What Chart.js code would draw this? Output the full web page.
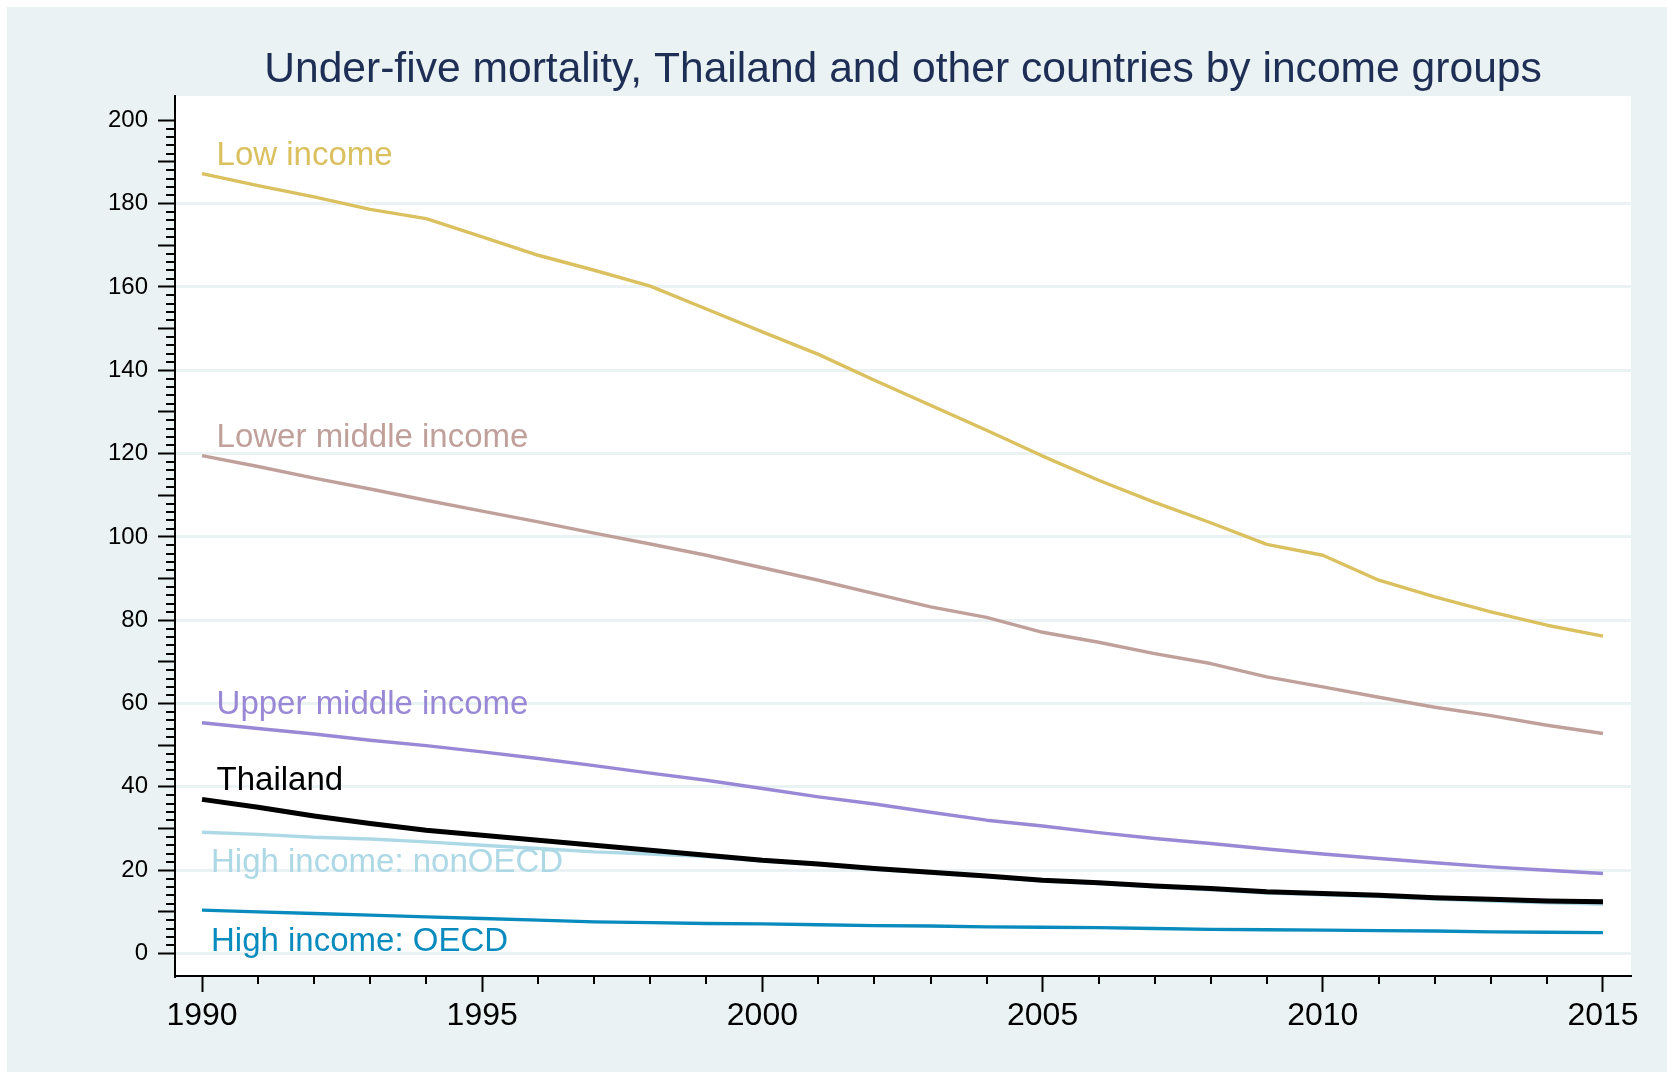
<!DOCTYPE html>
<html>
<head>
<meta charset="utf-8">
<script src="https://cdn.jsdelivr.net/npm/chart.js@4.4.1/dist/chart.umd.min.js"></script>
<style>
html,body{margin:0;padding:0;background:#ffffff;}
#wrap{position:absolute;left:0;top:0;width:1667px;height:1072px;}
</style>
</head>
<body>
<div id="wrap"><canvas id="c" width="1667" height="1072"></canvas></div>
<script>
// ---------------- data ----------------
const years = [1990,1991,1992,1993,1994,1995,1996,1997,1998,1999,2000,2001,2002,2003,2004,2005,2006,2007,2008,2009,2010,2011,2012,2013,2014,2015];
const lowIncome = [187.2,184.3,181.6,178.6,176.4,172.0,167.6,164.0,160.2,154.7,149.2,143.8,137.6,131.6,125.6,119.4,113.6,108.3,103.4,98.2,95.6,89.6,85.6,82.0,78.8,76.2];
const lowerMiddleIncome = [119.5,116.9,114.1,111.5,108.8,106.2,103.6,100.9,98.3,95.6,92.6,89.6,86.4,83.2,80.7,77.1,74.7,72.0,69.6,66.4,64.0,61.5,59.1,57.1,54.8,52.8];
const upperMiddleIncome = [55.4,54.0,52.7,51.2,49.9,48.4,46.8,45.1,43.3,41.6,39.6,37.6,35.9,33.9,32.0,30.6,29.0,27.6,26.4,25.1,23.9,22.8,21.8,20.8,20.0,19.2];
const thailand = [37.0,35.1,33.0,31.2,29.6,28.4,27.2,26.0,24.8,23.6,22.4,21.5,20.4,19.5,18.6,17.6,17.0,16.2,15.6,14.8,14.4,14.0,13.4,13.0,12.6,12.4];
const highNonOECD = [29.1,28.6,27.9,27.5,26.8,26.0,25.2,24.4,23.9,23.3,22.2,21.3,20.2,19.3,18.4,17.4,16.8,16.0,15.3,14.5,14.1,13.7,13.1,12.6,12.2,11.9];
const highOECD = [10.4,10.0,9.6,9.2,8.8,8.4,8.0,7.6,7.4,7.2,7.1,6.9,6.7,6.6,6.4,6.3,6.2,6.0,5.8,5.7,5.6,5.5,5.4,5.2,5.1,5.0];

const seriesNames = ["Low income","Lower middle income","Upper middle income","Thailand","High income: nonOECD","High income: OECD"];
const xTickValues = [1990,1995,2000,2005,2010,2015];
const yTickValues = [0,10,20,30,40,50,60,70,80,90,100,110,120,130,140,150,160,170,180,190,200];
const yLabelValues = [0,20,40,60,80,100,120,140,160,180,200];
const titleText = "Under-five mortality, Thailand and other countries by income groups";

// label anchors (data coordinates: year, value at text baseline)
const labelYear = [1990.26,1990.26,1990.26,1990.26,1990.16,1990.16];
const labelValue = [189.2,121.5,57.5,39.2,19.6,0.7];

// ---------------- styles ----------------
const FONT = '"Liberation Sans", Arial, Helvetica, sans-serif';
const colors = ["#DAC05F","#C0A09B","#9888D5","#000000","#ADD8E6","#0A8BBE"];
const widths = [3.4,3.4,3.4,5,3.4,3.4];
const orders = [5,4,3,0,2,1];
const seriesValues = [lowIncome,lowerMiddleIncome,upperMiddleIncome,thailand,highNonOECD,highOECD];
const BG = "#EAF2F3";

Chart.defaults.font.family = FONT;

const bgPlugin = {
  id: 'bg',
  beforeDraw(chart){
    const ctx = chart.ctx, a = chart.chartArea;
    ctx.save();
    ctx.fillStyle = "#ffffff";
    ctx.fillRect(0,0,chart.width,chart.height);
    ctx.fillStyle = BG;
    ctx.fillRect(7,7,chart.width-7,chart.height-7);
    ctx.fillStyle = "#ffffff";
    ctx.fillRect(a.left,a.top,a.right-a.left,a.bottom-a.top);
    ctx.restore();
  }
};

const minorTicks = {
  id: 'minorTicks',
  afterDraw(chart){
    const ctx = chart.ctx, xs = chart.scales.x, ys = chart.scales.y, a = chart.chartArea;
    ctx.save();
    ctx.strokeStyle = "#000";
    ctx.lineWidth = 2;
    ctx.beginPath();
    years.forEach(yr => {
      if (xTickValues.includes(yr)) return;
      const px = Math.round(xs.getPixelForValue(yr));
      ctx.moveTo(px, a.bottom); ctx.lineTo(px, a.bottom + 8);
    });
    for (let v = 0; v <= 200; v += 2) {
      if (v % 10 === 0) continue;
      const py = Math.round(ys.getPixelForValue(v));
      ctx.moveTo(a.left - 9, py); ctx.lineTo(a.left, py);
    }
    ctx.stroke();
    ctx.restore();
  }
};

const seriesLabels = {
  id: 'seriesLabels',
  afterDatasetsDraw(chart){
    const ctx = chart.ctx, xs = chart.scales.x, ys = chart.scales.y;
    ctx.save();
    ctx.font = '33px ' + FONT;
    ctx.textAlign = 'left';
    ctx.textBaseline = 'alphabetic';
    seriesNames.forEach((name,i) => {
      ctx.fillStyle = colors[i];
      ctx.fillText(name, xs.getPixelForValue(labelYear[i]), ys.getPixelForValue(labelValue[i]));
    });
    ctx.restore();
  }
};

const datasets = seriesNames.map((name,i) => ({
  label: name,
  data: years.map((yr,j) => ({x: yr, y: seriesValues[i][j]})),
  borderColor: colors[i],
  backgroundColor: colors[i],
  borderWidth: widths[i],
  pointRadius: 0,
  tension: 0,
  fill: false,
  order: orders[i],
  borderJoinStyle: 'round',
  borderCapStyle: 'butt'
}));

new Chart(document.getElementById('c'), {
  type: 'line',
  data: { datasets },
  options: {
    responsive: false,
    animation: false,
    devicePixelRatio: 1,
    layout: { padding: { left: 0, right: 36, top: 0, bottom: 0 } },
    plugins: {
      legend: { display: false },
      tooltip: { enabled: false },
      title: {
        display: true,
        text: titleText,
        fullSize: false,
        color: "#1E2E55",
        font: { size: 42.6, weight: 'normal', family: FONT, lineHeight: 1.2 },
        padding: { top: 45, bottom: 0 }
      }
    },
    scales: {
      x: {
        type: 'linear',
        min: 1989.518,
        max: 2015.5,
        afterBuildTicks: s => { s.ticks = xTickValues.map(v => ({ value: v })); },
        afterFit: s => { s.height = 96; },
        grid: { drawOnChartArea: false, drawTicks: true, tickLength: 16, tickColor: "#000", tickWidth: 2 },
        border: { display: true, color: "#000", width: 2 },
        ticks: { color: "#000", font: { size: 32 }, padding: 5, maxRotation: 0, autoSkip: false, callback: v => String(v) }
      },
      y: {
        type: 'linear',
        min: -5.4,
        max: 205.8,
        afterBuildTicks: s => { s.ticks = yTickValues.map(v => ({ value: v })); },
        afterFit: s => { s.width = 175; },
        grid: {
          color: c => (c.tick && c.tick.value % 20 === 0 && c.tick.value !== 200) ? BG : 'rgba(0,0,0,0)',
          lineWidth: 3,
          drawTicks: true, tickLength: 17, tickColor: "#000", tickWidth: 2
        },
        border: { display: true, color: "#000", width: 2 },
        ticks: { color: "#000", font: { size: 24 }, padding: 10, autoSkip: false,
                 callback: v => yLabelValues.includes(v) ? String(v) : '' }
      }
    }
  },
  plugins: [bgPlugin, minorTicks, seriesLabels]
});
</script>
</body>
</html>
